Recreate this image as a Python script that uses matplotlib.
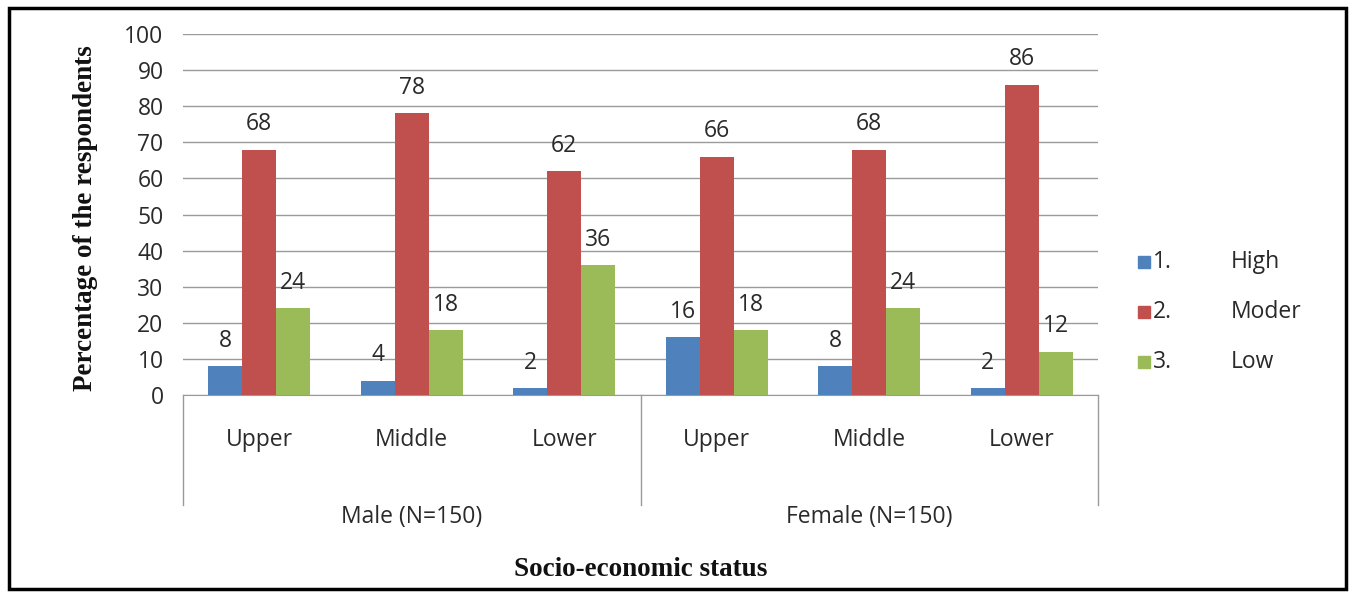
import matplotlib
matplotlib.use("Agg")
import matplotlib.pyplot as plt
from matplotlib.patches import Rectangle
from matplotlib.lines import Line2D
import numpy as np

genders = ["Male (N=150)", "Female (N=150)"]
statuses = ["Upper", "Middle", "Lower", "Upper", "Middle", "Lower"]
series_names = ["1.", "2.", "3."]
series_desc = ["High", "Moder", "Low"]
high = [8, 4, 2, 16, 8, 2]
moderate = [68, 78, 62, 66, 68, 86]
low = [24, 18, 36, 18, 24, 12]
colors = ["#4F81BD", "#C0504D", "#9BBB59"]

W, H = 1354, 596
fig = plt.figure(figsize=(W/100, H/100), dpi=100)
ax = fig.add_axes([183/W, 1-395/H, (1098-183)/W, (395-34)/H])

font = "Open Sans"
fs = 16.5
tc = "#2a2a2a"
x = np.arange(len(statuses))
bw = 0.223
for i, (vals, c) in enumerate(zip([high, moderate, low], colors)):
    pos = x + (i-1)*bw
    ax.bar(pos, vals, width=bw, color=c, zorder=3)
    for p, v in zip(pos, vals):
        ax.text(p, v + 7.0, str(v), ha="center", va="center", fontsize=fs,
                family=font, color=tc)

ax.set_xlim(-0.5, len(statuses)-0.5)
ax.set_ylim(0, 100)
ax.set_yticks(range(0, 101, 10))
ax.yaxis.grid(True, color="#9a9a9a", linewidth=1, zorder=0)
ax.tick_params(axis="y", length=0, pad=14, labelsize=fs)
for lab in ax.get_yticklabels():
    lab.set_family(font)
    lab.set_color(tc)
ax.set_xticks([])
for s in ["top", "right", "left"]:
    ax.spines[s].set_visible(False)
ax.spines["bottom"].set_color("#9a9a9a")

def fx(px): return px / W
def fy(py): return 1 - py / H
for i, s in enumerate(statuses):
    xc = ax.transData.transform((i, 0))
    xf = fig.transFigure.inverted().transform(xc)[0]
    fig.text(xf, fy(440), s, ha="center", va="center", fontsize=fs, family=font, color=tc)
for gi, g in enumerate(genders):
    xc = ax.transData.transform((gi*3 + 1, 0))
    xf = fig.transFigure.inverted().transform(xc)[0]
    fig.text(xf, fy(517), g, ha="center", va="center", fontsize=fs, family=font, color=tc)
for px in [183, 641, 1098]:
    fig.add_artist(Line2D([fx(px), fx(px)], [fy(395), fy(505)], color="#9a9a9a", linewidth=1))

fig.text(fx(86), fy(218), "Percentage of the respondents", rotation=90, ha="center", va="center",
         fontsize=19.5, fontweight="bold", family="Liberation Serif", color="#111111")
fig.text(fx(641), fy(570), "Socio-economic status", ha="center", va="center",
         fontsize=19.5, fontweight="bold", family="Liberation Serif", color="#111111")

for i in range(3):
    yy = 262 + 50*i
    fig.add_artist(Rectangle((fx(1138), fy(yy+6)), 12/W, 12/H, color=colors[i]))
    fig.text(fx(1153), fy(yy), series_names[i], ha="left", va="center", fontsize=fs, family=font, color=tc)
    fig.text(fx(1231), fy(yy), series_desc[i], ha="left", va="center", fontsize=fs, family=font, color=tc)

fig.add_artist(Rectangle((fx(9), fy(589)), (1346-9)/W, (589-8)/H, fill=False,
                         edgecolor="black", linewidth=2.5))

fig.savefig("out.png", dpi=100)
